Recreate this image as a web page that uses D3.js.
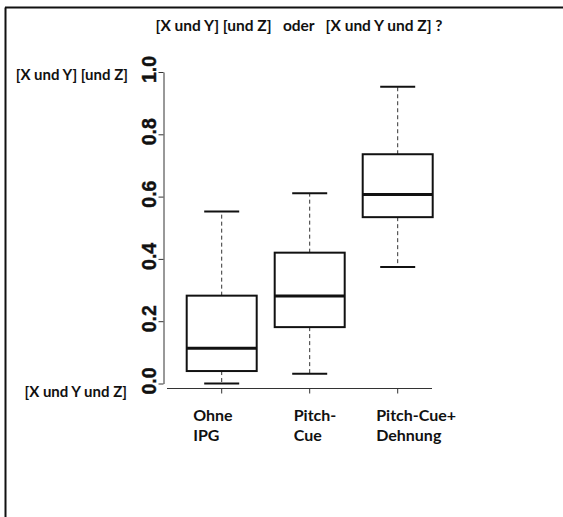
<!DOCTYPE html>
<html>
<head>
<meta charset="utf-8">
<script src="https://cdn.jsdelivr.net/npm/d3@7"></script>
<style>
  html, body { margin: 0; padding: 0; background: #fff; }
  svg { display: block; }
</style>
</head>
<body>
<svg id="chart" width="563" height="517"></svg>
<script>
// ---- data ----
const categories = [["Ohne", "IPG"], ["Pitch-", "Cue"], ["Pitch-Cue+", "Dehnung"]];
const whiskerLow  = [0.000, 0.031, 0.374];
const q1          = [0.040, 0.181, 0.534];
const medians     = [0.113, 0.281, 0.607];
const q3          = [0.282, 0.420, 0.736];
const whiskerHigh = [0.552, 0.611, 0.953];
const yTicks = [0, 0.2, 0.4, 0.6, 0.8, 1.0];
const title = "[X und Y] [und Z]   oder   [X und Y und Z] ?";
const topLabel = "[X und Y] [und Z]";
const bottomLabel = "[X und Y und Z]";

// ---- layout ----
const svg = d3.select("#chart");
const labelFont = "Lato, 'Open Sans', sans-serif";
const y = d3.scaleLinear().domain([0, 1]).range([383.5, 72]);
const x = d3.scaleLinear().domain([1, 3]).range([221.7, 397.7]);
const boxW = 70, capW = 35;
const labelDx = [-28.5, -16, -21.5];

// frame (left + top lines)
svg.append("line").attr("x1", 5.5).attr("x2", 5.5).attr("y1", 7.5).attr("y2", 517)
  .attr("stroke", "#111").attr("stroke-width", 2);
svg.append("line").attr("x1", 5).attr("x2", 563).attr("y1", 7.5).attr("y2", 7.5)
  .attr("stroke", "#111").attr("stroke-width", 2);

// title
svg.append("text").attr("x", 299).attr("y", 31).attr("text-anchor", "middle")
  .attr("font-family", labelFont).attr("font-weight", "bold").attr("font-size", 15.5)
  .attr("fill", "#111").style("white-space", "pre").text(title);

// y axis
const yAxis = d3.axisLeft(y).tickValues(yTicks).tickFormat(d3.format(".1f")).tickSize(5).tickSizeOuter(0);
const gy = svg.append("g").attr("transform", "translate(163.5,0)").call(yAxis);
gy.select(".domain").attr("stroke", "#333");
gy.selectAll(".tick line").attr("stroke", "#333");
gy.selectAll(".tick text")
  .attr("font-family", "'Liberation Sans', Arial, sans-serif").attr("font-weight", "bold")
  .attr("font-size", 19.5).attr("fill", "#111")
  .attr("stroke", "#111").attr("stroke-width", 0.4)
  .attr("x", null).attr("dy", null)
  .attr("text-anchor", "middle")
  .attr("transform", "translate(-8,-3) rotate(-90)");

// side labels
svg.append("text").attr("x", 128).attr("y", 80).attr("text-anchor", "end")
  .attr("font-family", labelFont).attr("font-weight", "bold").attr("font-size", 15)
  .attr("fill", "#111").text(topLabel);
svg.append("text").attr("x", 127).attr("y", 397).attr("text-anchor", "end")
  .attr("font-family", labelFont).attr("font-weight", "bold").attr("font-size", 15)
  .attr("fill", "#111").text(bottomLabel);

// x axis
svg.append("line").attr("x1", 167).attr("x2", 432).attr("y1", 388.5).attr("y2", 388.5)
  .attr("stroke", "#333").attr("stroke-width", 1);
svg.selectAll(".xtick").data(categories).enter().append("line")
  .attr("x1", (d, i) => x(i + 1)).attr("x2", (d, i) => x(i + 1))
  .attr("y1", 388.5).attr("y2", 393.5).attr("stroke", "#333");

const xl = svg.selectAll(".xlab").data(categories).enter().append("text")
  .attr("font-family", labelFont).attr("font-weight", "bold").attr("font-size", 16)
  .attr("fill", "#111");
xl.each(function (d, i) {
  const t = d3.select(this);
  d.forEach((line, j) => {
    t.append("tspan").attr("x", x(i + 1) + labelDx[i]).attr("y", 421 + j * 20).text(line);
  });
});

// boxes
const idx = d3.range(categories.length);
const g = svg.append("g");
// whiskers (dashed)
g.selectAll(".wu").data(idx).enter().append("line")
  .attr("x1", i => x(i + 1)).attr("x2", i => x(i + 1))
  .attr("y1", i => y(q3[i])).attr("y2", i => y(whiskerHigh[i]))
  .attr("stroke", "#333").attr("stroke-width", 1).attr("stroke-dasharray", "4,3");
g.selectAll(".wl").data(idx).enter().append("line")
  .attr("x1", i => x(i + 1)).attr("x2", i => x(i + 1))
  .attr("y1", i => y(q1[i])).attr("y2", i => y(whiskerLow[i]))
  .attr("stroke", "#333").attr("stroke-width", 1).attr("stroke-dasharray", "4,3");
// caps
[whiskerHigh, whiskerLow].forEach(arr => {
  g.selectAll(null).data(idx).enter().append("line")
    .attr("x1", i => x(i + 1) - capW / 2).attr("x2", i => x(i + 1) + capW / 2)
    .attr("y1", i => y(arr[i])).attr("y2", i => y(arr[i]))
    .attr("stroke", "#111").attr("stroke-width", 2);
});
// box rect
g.selectAll(".box").data(idx).enter().append("rect")
  .attr("x", i => x(i + 1) - boxW / 2).attr("width", boxW)
  .attr("y", i => y(q3[i])).attr("height", i => y(q1[i]) - y(q3[i]))
  .attr("fill", "#fff").attr("stroke", "#111").attr("stroke-width", 2);
// median
g.selectAll(".med").data(idx).enter().append("line")
  .attr("x1", i => x(i + 1) - boxW / 2).attr("x2", i => x(i + 1) + boxW / 2)
  .attr("y1", i => y(medians[i])).attr("y2", i => y(medians[i]))
  .attr("stroke", "#111").attr("stroke-width", 3);
</script>
</body>
</html>
